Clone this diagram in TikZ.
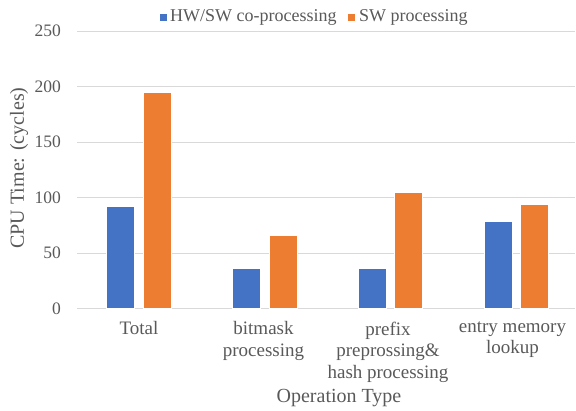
\documentclass[tikz,border=0pt]{standalone}
\usepackage{fontspec}
\setmainfont{Liberation Serif}
\definecolor{hwblue}{HTML}{4472C4}
\definecolor{sworange}{HTML}{ED7D31}
\definecolor{gridgray}{HTML}{D9D9D9}
\definecolor{textgray}{HTML}{595959}
\begin{document}
\begin{tikzpicture}[x=1pt,y=-1pt,
  grid line/.style={draw=gridgray,line width=1pt},
  hwbar/.style={fill=hwblue,draw=white,line width=0.6pt},
  swbar/.style={fill=sworange,draw=white,line width=0.6pt},
  tick label/.style={text=textgray,font=\fontsize{17.5}{17.5}\selectfont,anchor=east,inner sep=0pt},
  cat label/.style={text=textgray,font=\fontsize{19}{21.5}\selectfont,align=center,anchor=north,inner sep=0pt},
  axis title/.style={text=textgray,font=\fontsize{20}{22}\selectfont,inner sep=0pt},
  legend text/.style={text=textgray,font=\fontsize{18}{20}\selectfont,anchor=west,inner sep=0pt}]
\useasboundingbox (0,0) rectangle (576,410);
% value axis: 0 at y=308.7, 250 at y=31
\def\yz{308.7}
\def\ys{1.1108}
% gridlines and tick labels
\foreach \v in {0,50,...,250}{
  \draw[grid line] (77,{\yz-\v*\ys}) -- (575,{\yz-\v*\ys});
  \node[tick label] (t\v) at (61,{\yz-\v*\ys}) {\v};
}
% bars: left edge of blue bar, blue value, orange value
\foreach \xl/\hw/\sw [count=\i] in {106.7/92/195, 232.7/36/66, 358/36/105, 484.3/79/94}{
  \fill[hwbar] (\xl,\yz) rectangle ({\xl+27.8},{\yz-\hw*\ys});
  \fill[swbar] ({\xl+36.3},\yz) rectangle ({\xl+64.1},{\yz-\sw*\ys});
}
% category labels
\node[cat label] (c1) at (139,321.5) {Total};
\node[cat label] (c2) at (263.5,321.5) {bitmask\\processing};
\node[cat label] (c3) at (388,321.5) {prefix\\preprossing\&\\hash processing};
\node[cat label] (c4) at (512.5,321.5) {entry memory\\lookup};
% axis titles
\node[axis title,rotate=90] (ytitle) at (19,168) {CPU Time: (cycles)};
\node[axis title] (xtitle) at (339,398) {Operation Type};
% legend
\fill[hwblue] (160,13.5) rectangle (167,20.5);
\node[legend text] (l1) at (170,17) {HW/SW co-processing};
\fill[sworange] (348,13.5) rectangle (355,20.5);
\node[legend text] (l2) at (359,17) {SW processing};
\end{tikzpicture}
\end{document}
